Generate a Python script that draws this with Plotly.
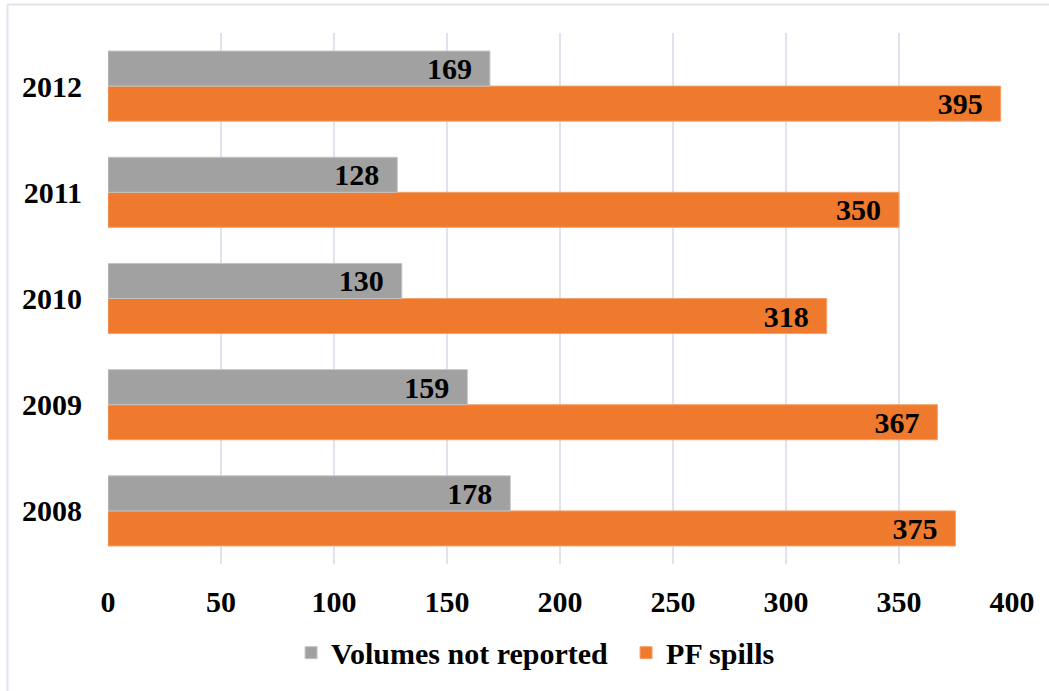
import plotly.graph_objects as go

years = ["2008", "2009", "2010", "2011", "2012"]
volumes_not_reported = [178, 159, 130, 128, 169]
pf_spills = [375, 367, 318, 350, 395]
x_ticks = [0, 50, 100, 150, 200, 250, 300, 350, 400]

FONT = "Liberation Serif"
GRAY = "#a1a1a1"
ORANGE = "#ef7a2d"
SIZE = 30

fig = go.Figure()

# Orange trace first so it sits in the lower slot of each group
fig.add_trace(go.Bar(
    y=years, x=pf_spills, orientation="h", name="PF spills",
    marker=dict(color=ORANGE, line=dict(color="#f4a06c", width=1)),
    texttemplate="%{x}\u00a0\u00a0", textposition="inside",
    insidetextanchor="end", constraintext="none",
    textfont=dict(family=FONT, size=SIZE, color="black", weight="bold"),
    legendrank=2,
))
fig.add_trace(go.Bar(
    y=years, x=volumes_not_reported, orientation="h", name="Volumes not reported",
    marker=dict(color=GRAY, line=dict(color="#c4c4c4", width=1)),
    texttemplate="%{x}\u00a0\u00a0", textposition="inside",
    insidetextanchor="end", constraintext="none",
    textfont=dict(family=FONT, size=SIZE, color="black", weight="bold"),
    legendrank=1,
))

fig.update_layout(
    width=1049, height=691,
    margin=dict(l=108, r=37, t=33, b=127, autoexpand=False),
    paper_bgcolor="white", plot_bgcolor="white",
    barmode="group", bargap=0.34, bargroupgap=0,
    font=dict(family=FONT, color="black"),
    xaxis=dict(
        range=[0, 400], tickvals=x_ticks,
        showgrid=True, gridcolor="#dfe4ec", gridwidth=2,
        zeroline=False, showline=False,
        tickfont=dict(family=FONT, size=SIZE, color="black", weight="bold"),
        ticklabelstandoff=17, ticks="",
    ),
    yaxis=dict(
        showgrid=False, zeroline=False, showline=False, ticks="",
        tickfont=dict(family=FONT, size=SIZE, color="black", weight="bold"),
        ticklabelstandoff=25,
    ),
    legend=dict(
        orientation="h", x=0.2025, xanchor="left", y=-0.118, yanchor="top",
        font=dict(family=FONT, size=SIZE, color="black", weight="bold"),
        itemwidth=30, entrywidth=290, bgcolor="rgba(0,0,0,0)",
    ),
    showlegend=True,
    shapes=[
        dict(type="line", xref="paper", yref="paper",
             x0=-0.1112, x1=1.2, y0=1.0537, y1=1.0537,
             line=dict(color="#dfe4ec", width=2)),
        dict(type="line", xref="paper", yref="paper",
             x0=-0.1112, x1=-0.1112, y0=-0.3, y1=1.0537,
             line=dict(color="#dfe4ec", width=2)),
    ],
)

fig.write_html("out.html")
